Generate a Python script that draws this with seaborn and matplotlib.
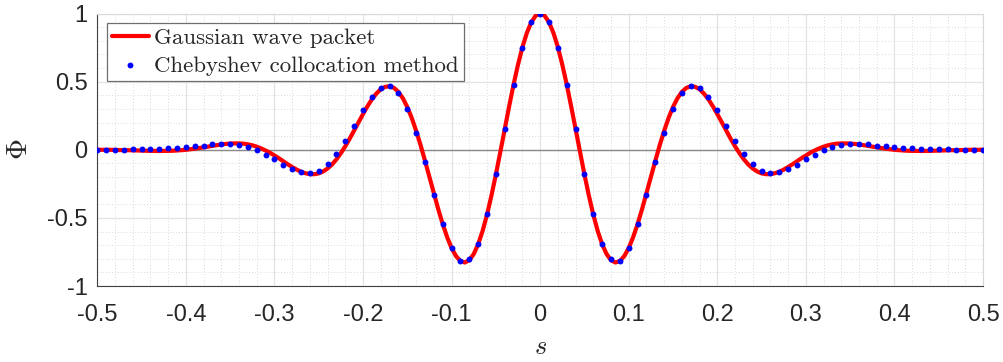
import numpy as np
import matplotlib
matplotlib.use("Agg")
import matplotlib.pyplot as plt
import seaborn as sns

# ---------------- data ----------------
s_line_start, s_line_end, n_line = -0.5, 0.5, 201
phi_line = [
    0.001, 0.000, 0.000, -0.000, -0.001, -0.002, -0.003, -0.003, -0.004, -0.005, -0.006,
    -0.007, -0.008, -0.008, -0.009, -0.008, -0.008, -0.007, -0.005, -0.003, 0.000,
    0.004, 0.008, 0.013, 0.018, 0.023, 0.029, 0.034, 0.039, 0.043, 0.046,
    0.047, 0.047, 0.045, 0.040, 0.033, 0.023, 0.010, -0.005, -0.022, -0.042,
    -0.062, -0.084, -0.106, -0.126, -0.145, -0.161, -0.172, -0.179, -0.179, -0.173,
    -0.159, -0.137, -0.108, -0.070, -0.025, 0.026, 0.082, 0.142, 0.203, 0.262,
    0.319, 0.370, 0.412, 0.444, 0.462, 0.466, 0.454, 0.425, 0.378, 0.314,
    0.234, 0.139, 0.034, -0.081, -0.200, -0.320, -0.437, -0.545, -0.641, -0.721,
    -0.780, -0.816, -0.827, -0.810, -0.765, -0.693, -0.596, -0.476, -0.336, -0.181,
    -0.017, 0.152, 0.319, 0.479, 0.625, 0.753, 0.858, 0.936, 0.984,
    1.000,
    0.984, 0.936, 0.858, 0.753, 0.625, 0.479, 0.319, 0.152, -0.017,
    -0.181, -0.336, -0.476, -0.596, -0.693, -0.765, -0.810, -0.827, -0.816, -0.780,
    -0.721, -0.641, -0.545, -0.437, -0.320, -0.200, -0.081, 0.034, 0.139, 0.234,
    0.314, 0.378, 0.425, 0.454, 0.466, 0.462, 0.444, 0.412, 0.370, 0.319,
    0.262, 0.203, 0.142, 0.082, 0.026, -0.025, -0.070, -0.108, -0.137, -0.159,
    -0.173, -0.179, -0.179, -0.172, -0.161, -0.145, -0.126, -0.106, -0.084, -0.062,
    -0.042, -0.022, -0.005, 0.010, 0.023, 0.033, 0.040, 0.045, 0.047, 0.047,
    0.046, 0.043, 0.039, 0.034, 0.029, 0.023, 0.018, 0.013, 0.008, 0.004,
    0.000, -0.003, -0.005, -0.007, -0.008, -0.008, -0.009, -0.008, -0.008, -0.007,
    -0.006, -0.005, -0.004, -0.003, -0.003, -0.002, -0.001, -0.000, 0.000, 0.000, 0.001,
]

s_dot_start, s_dot_end, n_dot = -0.5, 0.5, 101
phi_dots = [
    0.000, 0.001, 0.001, 0.002, 0.003, 0.004, 0.006, 0.008, 0.011, 0.015,
    0.019, 0.025, 0.031, 0.039, 0.042, 0.042, 0.036, 0.023, 0.000, -0.035,
    -0.070, -0.109, -0.140, -0.165, -0.170, -0.153, -0.106, -0.034, 0.063, 0.174,
    0.292, 0.390, 0.451, 0.466, 0.416, 0.302, 0.126, -0.092, -0.330, -0.548,
    -0.720, -0.814, -0.803, -0.688, -0.472, -0.178, 0.154, 0.478, 0.750, 0.934,
    1.000,
    0.934, 0.750, 0.478, 0.154, -0.178, -0.472, -0.688, -0.803, -0.814, -0.720,
    -0.548, -0.330, -0.092, 0.126, 0.302, 0.416, 0.466, 0.451, 0.390, 0.292,
    0.174, 0.063, -0.034, -0.106, -0.153, -0.170, -0.165, -0.140, -0.109, -0.070,
    -0.035, 0.000, 0.023, 0.036, 0.042, 0.042, 0.039, 0.031, 0.025, 0.019,
    0.015, 0.011, 0.008, 0.006, 0.004, 0.003, 0.002, 0.001, 0.001, 0.000,
]

x_ticks = [-0.5, -0.4, -0.3, -0.2, -0.1, 0.0, 0.1, 0.2, 0.3, 0.4, 0.5]
x_ticklabels = ["-0.5", "-0.4", "-0.3", "-0.2", "-0.1", "0", "0.1", "0.2", "0.3", "0.4", "0.5"]
y_ticks = [-1.0, -0.5, 0.0, 0.5, 1.0]
y_ticklabels = ["-1", "-0.5", "0", "0.5", "1"]

label_line = "Gaussian wave packet"
label_dots = "Chebyshev collocation method"
x_label = r"$s$"
y_label = r"$\Phi$"

s_line = np.round(np.linspace(s_line_start, s_line_end, n_line), 4)
s_dots = np.round(np.linspace(s_dot_start, s_dot_end, n_dot), 4)

# ---------------- style ----------------
sns.set_theme(style="white")
plt.rcParams["font.family"] = ["Liberation Sans", "DejaVu Sans"]
plt.rcParams["mathtext.fontset"] = "cm"
plt.rcParams["axes.unicode_minus"] = False

fig = plt.figure(figsize=(10.04, 3.62), dpi=100)
ax = fig.add_axes([0.0969, 0.2097, 0.8822, 0.7530])

# reference zero line
ax.axhline(0, color="#8a8a8a", lw=1.0, zorder=2)

sns.lineplot(x=s_line, y=phi_line, ax=ax, color="#ff0000", lw=3.0,
             label=label_line, sort=False, zorder=3)
sns.scatterplot(x=s_dots, y=phi_dots, ax=ax, color="#0000ff", s=18,
                linewidth=0, label=label_dots, zorder=4)

ax.set_xlim(-0.5, 0.5)
ax.set_ylim(-1, 1)
ax.set_xticks(x_ticks)
ax.set_xticklabels(x_ticklabels)
ax.set_yticks(y_ticks)
ax.set_yticklabels(y_ticklabels)
ax.set_xticks(np.arange(-0.5, 0.501, 0.02), minor=True)
ax.set_yticks(np.arange(-1, 1.001, 0.1), minor=True)

ax.grid(True, which="major", color="#e3e3e3", lw=0.9, ls="-")
ax.grid(True, which="minor", color="#cfcfcf", lw=0.6, ls=(0, (1, 2.5)))
ax.set_axisbelow(True)

ax.tick_params(axis="both", which="major", direction="in", length=6, width=0.8,
               color="#262626", labelsize=17, labelcolor="#262626")
ax.tick_params(axis="both", which="minor", length=0)
ax.tick_params(axis="x", which="major", pad=13)
ax.tick_params(axis="y", which="major", pad=7)

for side in ["left", "bottom"]:
    ax.spines[side].set_color("#404040")
    ax.spines[side].set_linewidth(0.8)
for side in ["top", "right"]:
    ax.spines[side].set_color("#d9d9d9")
    ax.spines[side].set_linewidth(0.8)

ax.set_xlabel(x_label, fontsize=19, color="#262626")
ax.set_ylabel(y_label, fontsize=21, color="#262626")
ax.xaxis.set_label_coords(0.5, -0.222)
ax.xaxis.label.set_verticalalignment("center")
ax.yaxis.set_label_coords(-0.088, 0.5)
ax.yaxis.label.set_verticalalignment("center")

leg = ax.legend(loc="upper left", bbox_to_anchor=(0.011, 0.965), borderaxespad=0,
                prop={"family": "cmr10", "size": 16.5}, frameon=True, fancybox=False,
                framealpha=1, edgecolor="#6e6e6e", handlelength=1.6,
                handletextpad=0.25, borderpad=0.22, labelspacing=0.32,
                scatterpoints=1, markerscale=1)
leg.get_frame().set_linewidth(0.9)

fig.savefig("out.png", dpi=100)
